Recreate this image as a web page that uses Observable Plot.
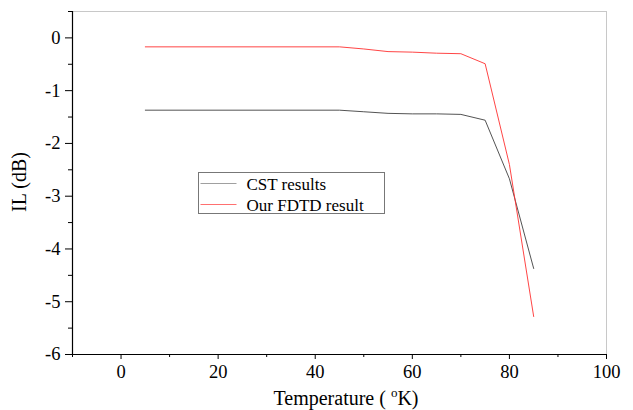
<!DOCTYPE html>
<html>
<head>
<meta charset="utf-8">
<script src="https://cdn.jsdelivr.net/npm/d3@7"></script>
<script src="https://cdn.jsdelivr.net/npm/@observablehq/plot@0.6"></script>
<style>
  html, body { margin: 0; padding: 0; background: #fff; }
  #wrap { position: relative; width: 633px; height: 410px; }
</style>
</head>
<body>
<div id="wrap"></div>
<script>
// Data
const temperature = [5, 45, 50, 55, 60, 65, 70, 75, 80, 85];
const cstResults  = [-1.37, -1.37, -1.40, -1.43, -1.44, -1.44, -1.45, -1.56, -2.67, -4.37];
const fdtdResults = [-0.17, -0.17, -0.21, -0.26, -0.27, -0.29, -0.30, -0.49, -2.40, -5.28];
const seriesNames = ["CST results", "Our FDTD result"];
const seriesColors = ["#404040", "#ff3030"];
const legendColors = ["#a0a0a0", "#ff7070"];
const xMajor = [0, 20, 40, 60, 80, 100];
const xMinor = [-10, 10, 30, 50, 70, 90];
const yMajor = [0, -1, -2, -3, -4, -5, -6];
const yMinor = [0.5, -0.5, -1.5, -2.5, -3.5, -4.5, -5.5];

const rows = [];
temperature.forEach((t, i) => rows.push({t, v: cstResults[i], s: seriesNames[0]}));
temperature.forEach((t, i) => rows.push({t, v: fdtdResults[i], s: seriesNames[1]}));

const FONT = "Liberation Serif";
const W = 633, H = 410;
const chart = Plot.plot({
  width: W, height: H,
  marginLeft: 72, marginRight: 27, marginTop: 11, marginBottom: 56,
  style: {fontFamily: FONT, fontSize: "18px", color: "#000", background: "#fff"},
  x: {domain: [-10, 100], label: null},
  y: {domain: [-6, 0.5], label: null},
  color: {domain: seriesNames, range: seriesColors},
  marks: [
    Plot.frame({stroke: "#c8c8c8", strokeWidth: 1}),
    Plot.ruleY([-6], {stroke: "#000", strokeWidth: 1.2}),
    Plot.ruleX([-10], {stroke: "#000", strokeWidth: 1.2}),
    Plot.axisX({ticks: xMajor, tickSize: 5, tickPadding: 5, tickFormat: d => String(d), fontSize: 18.5, fontFamily: FONT}),
    Plot.axisX({ticks: xMinor, tickSize: 3, text: null}),
    Plot.axisY({ticks: yMajor, tickSize: 7, tickPadding: 5, tickFormat: d => String(d), fontSize: 18.5, fontFamily: FONT}),
    Plot.axisY({ticks: yMinor, tickSize: 4, text: null}),
    Plot.line(rows, {x: "t", y: "v", z: "s", stroke: "s", strokeWidth: 0.9})
  ]
});

const svg = d3.select(chart);

// X axis title with superscript
const xt = svg.append("text")
  .attr("x", 346).attr("y", 405)
  .attr("text-anchor", "middle")
  .attr("font-family", FONT)
  .attr("font-size", 20)
  .attr("fill", "#000");
xt.append("tspan").text("Temperature ( ");
xt.append("tspan").attr("font-size", 13).attr("dy", -8).text("o");
xt.append("tspan").attr("dy", 8).text("K)");
// Y axis title
svg.append("text")
  .attr("transform", "translate(26,182) rotate(-90)")
  .attr("text-anchor", "middle")
  .attr("font-family", FONT)
  .attr("font-size", 20)
  .attr("fill", "#000")
  .text("IL (dB)");

// Legend (box in pixel layout, entries from series arrays)
const lg = svg.append("g").attr("transform", "translate(198.5,172.5)");
lg.append("rect").attr("width", 186).attr("height", 41)
  .attr("fill", "#fff").attr("stroke", "#777").attr("stroke-width", 1);
seriesNames.forEach((name, i) => {
  const yy = 11 + i * 21;
  lg.append("line").attr("x1", 2).attr("x2", 38).attr("y1", yy).attr("y2", yy)
    .attr("stroke", legendColors[i]).attr("stroke-width", 1);
  lg.append("text").attr("x", 48).attr("y", yy + 6)
    .attr("text-anchor", "start")
    .attr("font-family", FONT)
    .attr("font-size", 17).attr("fill", "#000").text(name);
});

document.getElementById("wrap").appendChild(chart);
</script>
</body>
</html>
